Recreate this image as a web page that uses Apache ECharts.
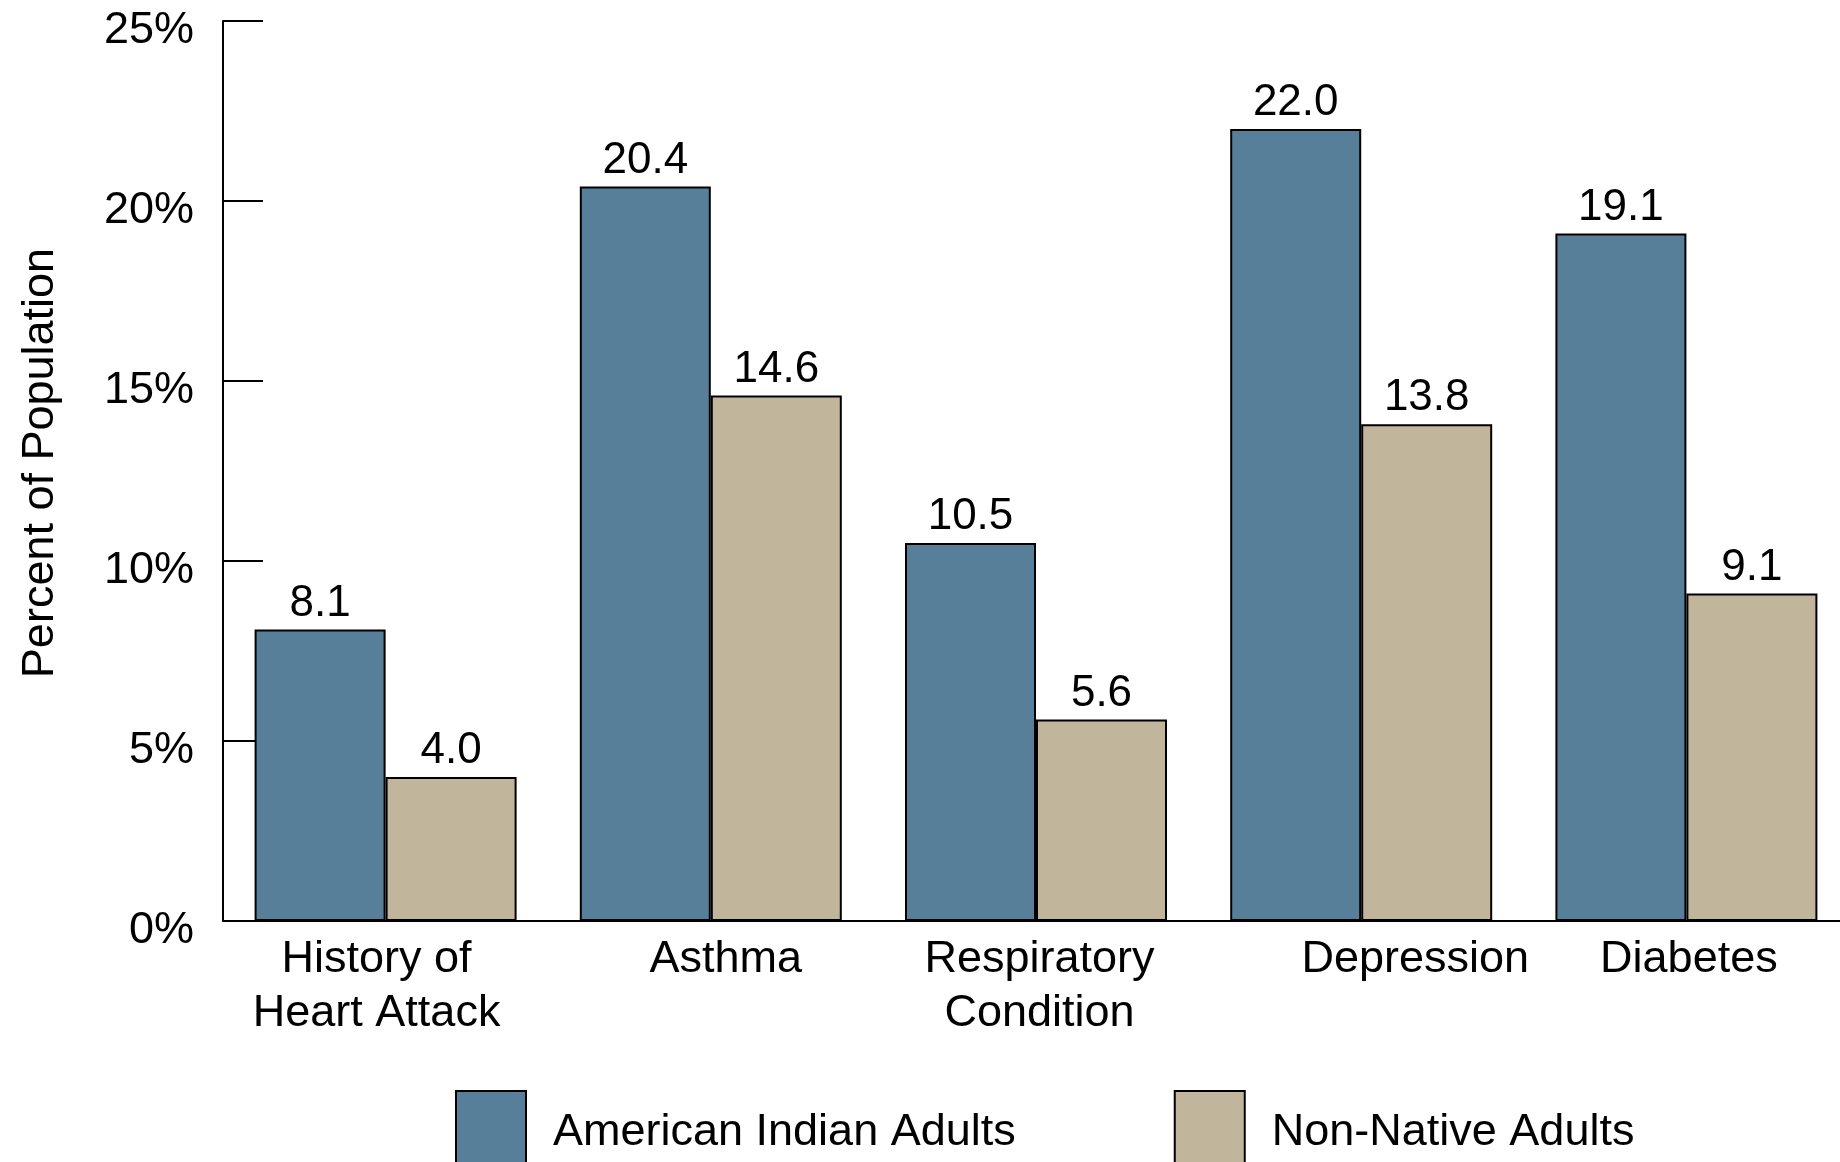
<!DOCTYPE html>
<html>
<head>
<meta charset="utf-8">
<title>Health conditions</title>
<script src="https://cdn.jsdelivr.net/npm/echarts@6/dist/echarts.min.js"></script>
<style>
  html, body { margin: 0; padding: 0; background: #fff; }
  #chart { width: 1840px; height: 1162px; }
</style>
</head>
<body>
<div id="chart"></div>
<script>
// data
var categories = ['History of\nHeart Attack', 'Asthma', 'Respiratory\nCondition', 'Depression', 'Diabetes'];
var americanIndian = [8.1, 20.4, 10.5, 22.0, 19.1];
var nonNative = [4.0, 14.6, 5.6, 13.8, 9.1];
var seriesNames = ['American Indian Adults', 'Non-Native Adults'];
var yTicks = [0, 5, 10, 15, 20, 25];

// nudges for the category labels (they are not centred in the original)
var labelPad = [[0, 18, 0, 0], [0, 0, 0, 30], [0, 0, 0, 7], [0, 0, 0, 108], [0, 0, 0, 5]];

var font = '"Liberation Sans", Arial, Helvetica, sans-serif';
var blue = '#587f9a';
var tan = '#c1b59b';

var myChart = echarts.init(document.getElementById('chart'));

var option = {
    backgroundColor: '#ffffff',
    animation: false,
    textStyle: { fontFamily: font, color: '#000' },
    grid: {
        left: 223,
        width: 1626,   // plot runs a little past the right edge, as in the original
        top: 21,
        bottom: 241,
        outerBoundsMode: 'none'
    },
    legend: {
        left: 450,
        top: 1085,
        itemWidth: 70,
        itemHeight: 84,
        itemGap: 158,
        icon: 'rect',
        itemStyle: { borderColor: '#000', borderWidth: 2 },
        textStyle: {
            fontFamily: font,
            fontSize: 45,
            color: '#000',
            padding: [0, 0, 0, 22]
        },
        data: seriesNames
    },
    xAxis: {
        type: 'category',
        data: categories.map(function (c, i) {
            return { value: c, textStyle: { padding: labelPad[i] } };
        }),
        axisLine: { lineStyle: { color: '#000', width: 2 } },
        axisTick: { show: false },
        axisLabel: {
            fontFamily: font,
            fontSize: 45,
            color: '#000',
            lineHeight: 54,
            margin: 12,
            interval: 0
        }
    },
    yAxis: {
        type: 'value',
        min: yTicks[0],
        max: yTicks[yTicks.length - 1],
        interval: 5,
        name: 'Percent of Population',
        nameLocation: 'middle',
        nameRotate: 90,
        nameGap: 160,
        nameTextStyle: { fontFamily: font, fontSize: 45, color: '#000', padding: [0, 0, 0, 16] },
        axisLine: { show: true, lineStyle: { color: '#000', width: 2 } },
        axisTick: { show: true, inside: true, length: 40, lineStyle: { color: '#000', width: 2 } },
        splitLine: { show: false },
        axisLabel: {
            fontFamily: font,
            fontSize: 45,
            color: '#000',
            margin: 29,
            formatter: function (v) { return '{a|' + v + '%}'; },
            rich: {
                a: { fontFamily: font, fontSize: 45, color: '#000', padding: [20, 0, 0, 0] }
            }
        }
    },
    series: [{
        name: seriesNames[0],
        type: 'bar',
        data: americanIndian,
        barWidth: 131,
        barGap: 0,
        itemStyle: { color: blue, borderColor: '#000', borderWidth: 2 },
        label: {
            show: true,
            position: 'top',
            distance: 4,
            fontFamily: font,
            fontSize: 44,
            color: '#000',
            formatter: function (p) { return p.value.toFixed(1); }
        }
    }, {
        name: seriesNames[1],
        type: 'bar',
        data: nonNative,
        barWidth: 131,
        barGap: 0,
        itemStyle: { color: tan, borderColor: '#000', borderWidth: 2 },
        label: {
            show: true,
            position: 'top',
            distance: 4,
            fontFamily: font,
            fontSize: 44,
            color: '#000',
            formatter: function (p) { return p.value.toFixed(1); }
        }
    }]
};

myChart.setOption(option);
</script>
</body>
</html>
